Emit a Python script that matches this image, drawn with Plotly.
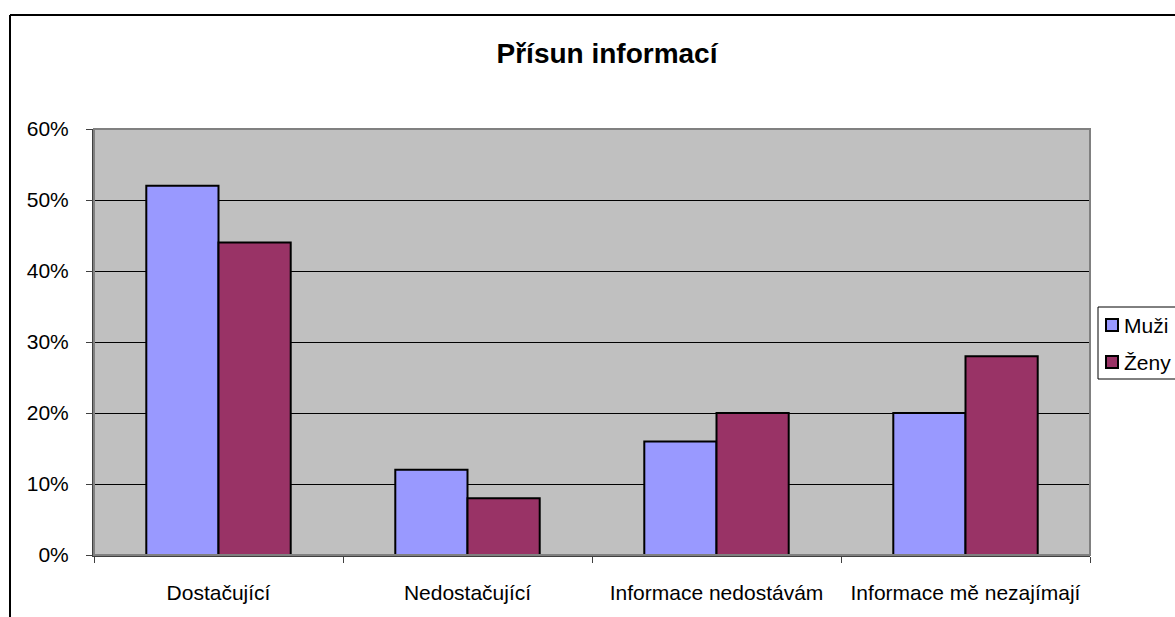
import plotly.graph_objects as go

categories = ["Dostačující", "Nedostačující", "Informace nedostávám", "Informace mě nezajímají"]
series_names = ["Muži", "Ženy"]
series_colors = ["#9999FF", "#993366"]
muzi = [0.52, 0.12, 0.16, 0.20]
zeny = [0.44, 0.08, 0.20, 0.28]
y_ticks = [0, 0.1, 0.2, 0.3, 0.4, 0.5, 0.6]

W, H = 1175, 617
L, R, T, B = 94, 85, 129, 62
pw, ph = W - L - R, H - T - B

font = "Arial, Liberation Sans, sans-serif"

fig = go.Figure()
for name, color, vals in zip(series_names, series_colors, [muzi, zeny]):
    fig.add_trace(go.Bar(
        name=name, x=categories, y=vals, showlegend=False,
        marker=dict(color=color, line=dict(color="#000000", width=2)),
    ))


def px_x(p):
    return (p - L) / pw


def px_y(p):
    return (H - B - p) / ph


shapes = [
    # plot area frame
    dict(type="rect", xref="paper", yref="paper", x0=0, x1=1, y0=0, y1=1,
         line=dict(color="#808080", width=2), layer="above"),
    # chart area border (left and top edges)
    dict(type="line", xref="paper", yref="paper",
         x0=px_x(10), x1=px_x(10), y0=px_y(15), y1=px_y(640),
         line=dict(color="#000000", width=2)),
    dict(type="line", xref="paper", yref="paper",
         x0=px_x(10), x1=px_x(1200), y0=px_y(15), y1=px_y(15),
         line=dict(color="#000000", width=2)),
    # legend box
    dict(type="rect", xref="paper", yref="paper",
         x0=px_x(1098), x1=px_x(1185), y0=px_y(379), y1=px_y(307),
         line=dict(color="#000000", width=1), fillcolor="#FFFFFF"),
]

annotations = []
legend_rows = [325, 362]
for name, color, yc in zip(series_names, series_colors, legend_rows):
    shapes.append(dict(
        type="rect", xref="paper", yref="paper",
        x0=px_x(1106), x1=px_x(1118), y0=px_y(yc + 6), y1=px_y(yc - 6),
        line=dict(color="#000000", width=2), fillcolor=color,
    ))
    annotations.append(dict(
        text=name, xref="paper", yref="paper", x=px_x(1122), y=px_y(yc),
        xanchor="left", yanchor="middle", showarrow=False,
        font=dict(family=font, size=21, color="#000000"),
    ))

fig.update_layout(
    width=W, height=H,
    margin=dict(l=L, r=R, t=T, b=B, autoexpand=False),
    paper_bgcolor="#FFFFFF",
    plot_bgcolor="#C0C0C0",
    barmode="group",
    bargap=0.42,
    bargroupgap=0,
    showlegend=False,
    font=dict(family=font, size=21, color="#000000"),
    title=dict(text="<b>Přísun informací</b>", x=607 / W, xanchor="center",
               y=1 - 53 / H, yanchor="middle", yref="container",
               font=dict(family=font, size=28, color="#000000")),
    shapes=shapes,
    annotations=annotations,
    xaxis=dict(
        type="category", showgrid=False, showline=True, linecolor="#404040",
        linewidth=2, ticks="outside", ticklen=6, tickcolor="#404040",
        tickwidth=1, tickson="boundaries", ticklabelstandoff=18,
        tickfont=dict(family=font, size=21, color="#000000"),
    ),
    yaxis=dict(
        range=[0, 0.6], tickvals=y_ticks, tickformat=".0%",
        showgrid=True, gridcolor="#000000", gridwidth=1,
        zeroline=False, showline=True, linecolor="#404040", linewidth=2,
        ticks="outside", ticklen=6, tickcolor="#404040", tickwidth=1,
        ticklabelstandoff=13,
        tickfont=dict(family=font, size=21, color="#000000"),
    ),
)

fig.write_html("out.html")
